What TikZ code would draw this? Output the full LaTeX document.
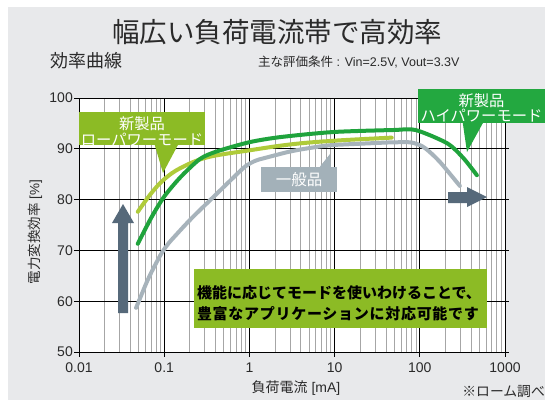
\documentclass[tikz,border=0pt]{standalone}
\usepackage{fontspec}
\setmainfont{Liberation Sans}
\newfontfamily\jp{Noto Sans CJK JP}
\usetikzlibrary{calc}
\definecolor{panel}{HTML}{E8E9EB}
\definecolor{lpgreen}{HTML}{8CBB25}
\definecolor{hpgreen}{HTML}{23A840}
\definecolor{graybox}{HTML}{A3B1B9}
\definecolor{lpcurve}{HTML}{AFCB3A}
\definecolor{hpcurve}{HTML}{1FA33C}
\definecolor{gencurve}{HTML}{A7B3BB}
\definecolor{arrowcol}{HTML}{56697A}
\definecolor{txt}{HTML}{2A2A2A}
\begin{document}
\begin{tikzpicture}[x=1pt,y=-1pt,
  ticklbl/.style={font=\fontsize{14}{14}\selectfont, text=txt, inner sep=0pt},
  majorline/.style={black, line width=0.9pt},
  minorline/.style={black!35, line width=0.8pt},
  curve/.style={line width=4pt, line cap=round, line join=round},
  boxnode/.style={inner sep=0pt, minimum width=#1},
  calltext/.style={inner sep=0pt, text=white, align=center},
  arrowshape/.style={fill=arrowcol},
]
\useasboundingbox (0,0) rectangle (545,400);
\fill[white] (0,0) rectangle (545,400);
\fill[panel] (8,7) rectangle (545,400);

% headings
\node[font=\jp\fontsize{27.5}{28}\selectfont, text=txt] (title) at (277,32) {幅広い負荷電流帯で高効率};
\node[font=\jp\fontsize{18}{18}\selectfont, text=txt, anchor=west, inner sep=0pt] (sub) at (50,61) {効率曲線};
\node[font=\fontsize{12.5}{13}\selectfont, text=txt, anchor=west, inner sep=0pt] (cond) at (258,62) {{\jp 主な評価条件} : Vin=2.5V, Vout=3.3V};

% plot area
\fill[white] (79,98) rectangle (505,352);
\foreach \d in {0,...,4}{
  \foreach \k in {2,...,9}{
    \pgfmathsetmacro\xx{79+85.2*(\d+log10(\k))}
    \draw[minorline] (\xx,98) -- (\xx,352);
  }
}
\foreach \d in {0,...,5}{
  \pgfmathsetmacro\xx{79+85.2*\d}
  \draw[majorline] (\xx,98) -- (\xx,357);
}
\foreach \i in {0,...,5}{
  \pgfmathsetmacro\yy{352-50.8*\i}
  \draw[majorline] (74,\yy) -- (509,\yy);
}
% tick labels
\foreach \i/\v in {0/50,1/60,2/70,3/80,4/90,5/100}{
  \pgfmathsetmacro\yy{352-50.8*\i}
  \node[ticklbl, anchor=east] (yl\v) at (73,\yy) {\v};
}
\foreach \d/\v in {0/0.01,1/0.1,2/1,3/10,4/100,5/1000}{
  \pgfmathsetmacro\xx{79+85.2*\d}
  \node[ticklbl] (xl\d) at (\xx,368) {\v};
}
\node[font=\fontsize{13.5}{14}\selectfont, text=txt, rotate=90] (ylab) at (35,232) {{\jp 電力変換効率} [\%]};
\node[font=\fontsize{14}{14}\selectfont, text=txt] (xlab) at (296,388) {{\jp 負荷電流} [mA]};
\node[font=\jp\fontsize{13.8}{14}\selectfont, text=txt, anchor=east, inner sep=0pt] (note) at (545,392) {※ローム調べ};

% curves
\begin{scope}[shift={(79,352)}, x=85.2pt, y=5.08pt]
  \draw[curve, gencurve, rounded corners=10pt]
    (0.67,8.7) -- (0.82,14.8) -- (1.0,20.5) -- (1.3,26) -- (2.0,37.4) -- (2.5,39.6) -- (2.91,40.7) -- (3.69,41.3) -- (3.98,41.3) -- (4.2,38.2) -- (4.47,32.7);
  \draw[curve, lpcurve] plot[smooth, tension=0.6] coordinates {
    (0.69,27.6) (0.85,31.3) (1.0,34) (1.19,36.2) (1.5,38.3) (2.0,39.7) (2.5,40.9) (3.0,41.6) (3.67,42.2)};
  \draw[curve, hpcurve] plot[smooth, tension=0.45] coordinates {
    (0.69,21.3) (0.85,26.5) (1.0,30.6) (1.19,34.4) (1.42,38.0) (1.62,39.5) (2.0,41.3) (2.36,42.3) (2.98,43.3) (3.69,43.7) (3.95,43.7) (4.32,41.1) (4.51,38.2) (4.67,34.8)};
\end{scope}

% block arrows
\fill[arrowshape] (118,313) -- (118,223) -- (112,223) -- (123,204) -- (134,223) -- (128,223) -- (128,313) -- cycle;
\fill[arrowshape] (448,192) -- (467,192) -- (467,187) -- (487,197) -- (467,207) -- (467,203) -- (448,203) -- cycle;

% low power callout
\node[boxnode=126pt, minimum height=33pt, fill=lpgreen] (lpbox) at (142,128.5) {};
\coordinate (lptip) at (163,173);
\fill[lpgreen] ($(lpbox.south west)+(76,0)$) -- (lptip) -- ($(lpbox.south west)+(99,0)$) -- cycle;
\node[calltext, font=\jp\fontsize{15.3}{16.7}\selectfont] (lptext) at ($(lpbox.center)+(0,3)$) {新製品\\ローパワーモード};

% high power callout
\node[boxnode=127pt, minimum height=34pt, fill=hpgreen] (hpbox) at (481.5,106) {};
\coordinate (hptip) at (467,152);
\fill[hpgreen] ($(hpbox.south west)+(45,0)$) -- (hptip) -- ($(hpbox.south west)+(65,0)$) -- cycle;
\node[calltext, font=\jp\fontsize{15.3}{14.3}\selectfont] (hptext) at ($(hpbox.center)+(0,2)$) {新製品\\ハイパワーモード};

% general product callout
\node[boxnode=76pt, minimum height=25pt, fill=graybox] (genbox) at (299,179.5) {};
\coordinate (gentip) at (330,154);
\fill[graybox] ($(genbox.north west)+(59,0)$) -- (gentip) -- ($(genbox.north west)+(70,0)$) -- cycle;
\node[calltext, font=\jp\fontsize{15.5}{16}\selectfont] (gentext) at ($(genbox.center)+(0,0.5)$) {一般品};

% message box
\node[boxnode=293pt, minimum height=59pt, fill=lpgreen] (msgbox) at (340.5,298.5) {};
\node[inner sep=0pt, align=left, anchor=west, text=black, font=\jp\bfseries\fontsize{15}{21}\selectfont] (msgtext) at ($(msgbox.west)+(3,5)$) {機能に応じてモードを使いわけることで、\\{\addfontfeatures{LetterSpace=4.8}豊富なアプリケーションに対応可能です}};
\end{tikzpicture}
\end{document}
